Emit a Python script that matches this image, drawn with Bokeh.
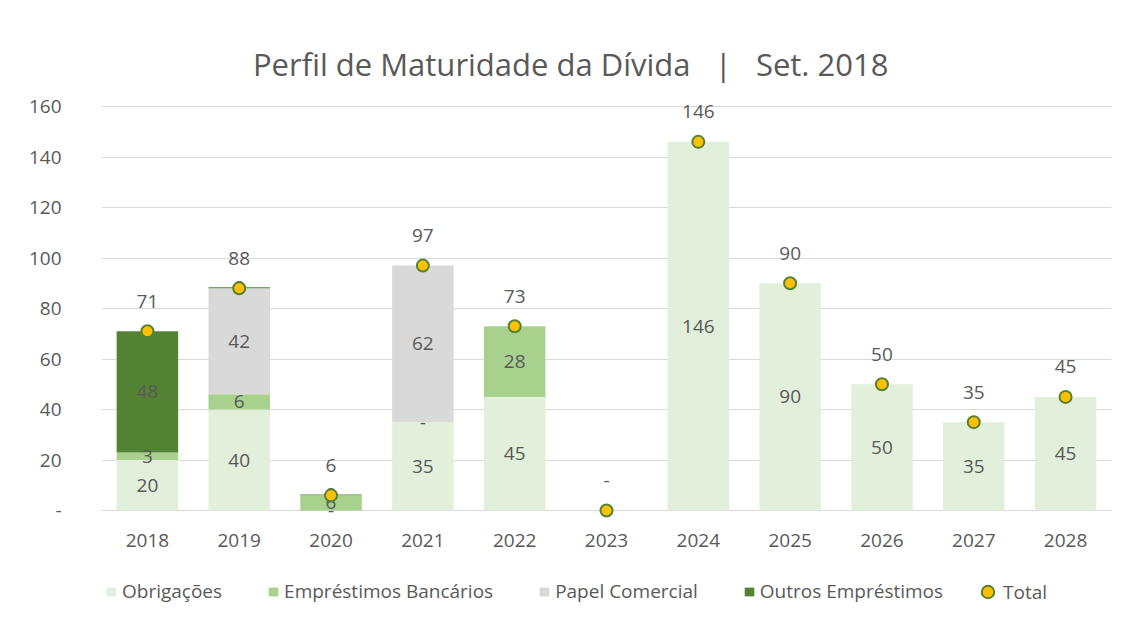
from bokeh.plotting import figure
from bokeh.models import ColumnDataSource, FactorRange, FixedTicker, Legend, LegendItem, Label
from bokeh.core.properties import value
from bokeh.embed import file_html
from bokeh.resources import INLINE

years = ["2018", "2019", "2020", "2021", "2022", "2023", "2024", "2025", "2026", "2027", "2028"]
obrigacoes = [20, 40, 0, 35, 45, 0, 146, 90, 50, 35, 45]
emprestimos = [3, 6, 6, 0, 28, 0, 0, 0, 0, 0, 0]
papel = [0, 42, 0, 62, 0, 0, 0, 0, 0, 0, 0]
outros = [48, 0.4, 0.3, 0, 0, 0, 0, 0, 0, 0, 0]
total = [71, 88, 6, 97, 73, 0, 146, 90, 50, 35, 45]

lbl_obrigacoes = ["20", "40", "-", "35", "45", "", "146", "90", "50", "35", "45"]
lbl_emprestimos = ["3", "6", "6", "-", "28", "", "", "", "", "", ""]
lbl_papel = ["", "42", "", "62", "", "", "", "", "", "", ""]
lbl_outros = ["48", "0", "0", "", "", "", "", "", "", "", ""]
lbl_total = ["71", "88", "6", "97", "73", "-", "146", "90", "50", "35", "45"]
y_ticks = [0, 20, 40, 60, 80, 100, 120, 140, 160]

series_names = ["Obrigações", "Empréstimos Bancários", "Papel Comercial", "Outros Empréstimos"]
series_keys = ["obrig", "empr", "papel", "outros"]
colors = ["#E2EFDA", "#A9D18E", "#D9D9D9", "#548235"]
text_color = "#595959"
FONT = "Open Sans"

data = dict(years=years, obrig=obrigacoes, empr=emprestimos, papel=papel,
            outros=outros, total=total, lbl_total=lbl_total)
source = ColumnDataSource(data)

# frame spans full height; the value range is extended so that 0..160 sits where the
# reference draws it, leaving room for title (top) and category labels/legend (bottom)
p = figure(x_range=FactorRange(*years), y_range=(-43.56, 201.98),
           width=1130, height=620, output_backend="svg", toolbar_location=None,
           min_border_left=101, min_border_right=19, min_border_top=0, min_border_bottom=0)
p.title.visible = False

bars = p.vbar_stack(series_keys, x="years", width=0.67, color=colors, source=source,
                    line_width=0)

# segment labels
seg_values = [obrigacoes, emprestimos, papel, outros]
seg_labels = [lbl_obrigacoes, lbl_emprestimos, lbl_papel, lbl_outros]
xs, ys, ts = [], [], []
bottoms = [0.0] * len(years)
for vals, lbls in zip(seg_values, seg_labels):
    for i, (v, t) in enumerate(zip(vals, lbls)):
        if t:
            xs.append(years[i]); ys.append(bottoms[i] + v / 2.0); ts.append(t)
        bottoms[i] += v
p.text(x=xs, y=ys, text=ts, text_align="center", text_baseline="middle",
       text_font=value(FONT), text_font_size="19px", text_color=text_color)

# total
dots = p.scatter(x="years", y="total", source=source, size=12, fill_color="#FFC000",
                 line_color="#548235", line_width=2)
p.text(x="years", y="total", text="lbl_total", source=source, y_offset=-30,
       text_align="center", text_baseline="middle",
       text_font=value(FONT), text_font_size="19px", text_color=text_color)

# category labels under the baseline
p.text(x=years, y=[0] * len(years), text=years, y_offset=30,
       text_align="center", text_baseline="middle",
       text_font=value(FONT), text_font_size="19px", text_color=text_color)

# title
title = Label(x=5.11, y=177.0,
              text="Perfil de Maturidade da Dívida\u00a0\u00a0\u00a0|\u00a0\u00a0\u00a0Set. 2018",
              text_align="center", text_baseline="alphabetic", text_font=FONT,
              text_font_size="31px", text_color=text_color)
p.add_layout(title)

# axes
ticker = FixedTicker(ticks=y_ticks)
p.yaxis.ticker = ticker
p.ygrid.ticker = ticker
p.yaxis.major_label_overrides = {0: "-"}
p.yaxis.axis_line_color = None
p.yaxis.major_tick_line_color = None
p.yaxis.minor_tick_line_color = None
p.yaxis.major_label_standoff = 34
p.yaxis.major_label_text_font = FONT
p.yaxis.major_label_text_font_size = "19px"
p.yaxis.major_label_text_color = text_color
p.xaxis.visible = False

p.xgrid.grid_line_color = None
p.ygrid.grid_line_color = "#D9D9D9"
p.x_range.range_padding = 0
p.outline_line_color = None

def style_legend(lg):
    lg.orientation = "horizontal"
    lg.padding = 0
    lg.margin = 0
    lg.border_line_color = None
    lg.background_fill_alpha = 0
    lg.label_text_font = FONT
    lg.label_text_font_size = "19px"
    lg.label_text_color = text_color
    lg.label_height = 20

items = [LegendItem(label=n, renderers=[r]) for n, r in zip(series_names, bars)]
lg = Legend(items=items, location=(4, 16))
style_legend(lg)
lg.glyph_width = 12
lg.glyph_height = 11
lg.label_standoff = 5
lg.spacing = 45
p.add_layout(lg)

lg2 = Legend(items=[LegendItem(label="Total", renderers=[dots])], location=(871, 12))
style_legend(lg2)
lg2.glyph_width = 31
lg2.glyph_height = 33
lg2.label_standoff = 0
p.add_layout(lg2)

open("out.html", "w").write(file_html(p, INLINE))
